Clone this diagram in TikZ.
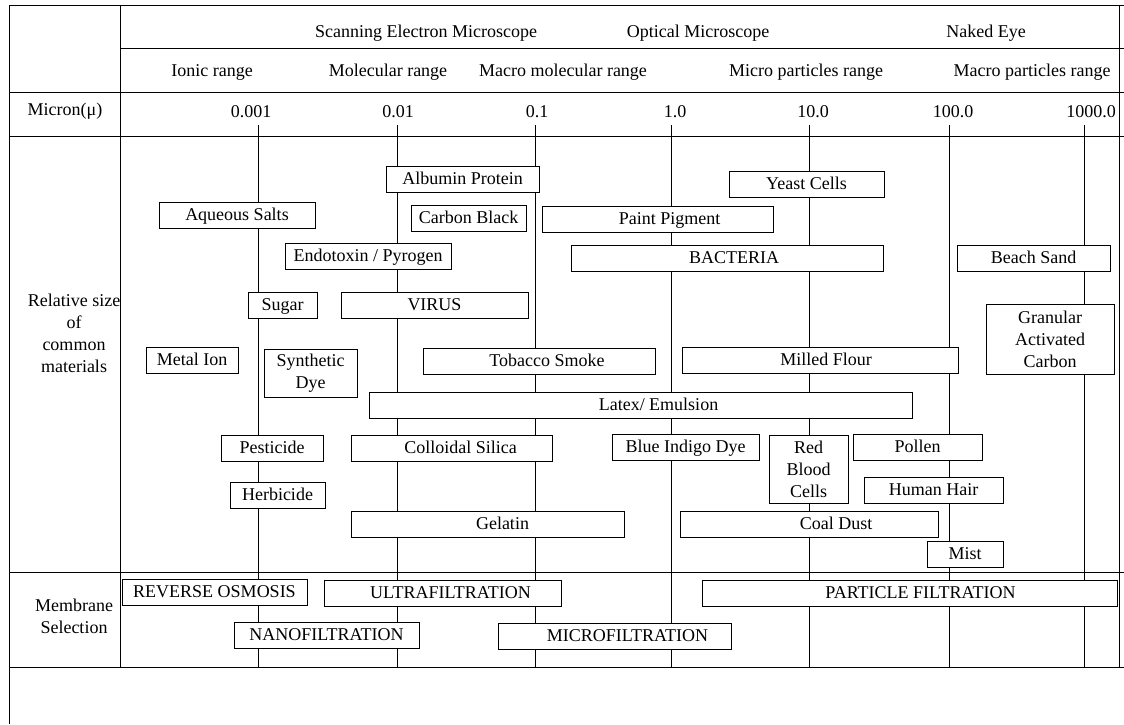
\documentclass[tikz,border=0pt]{standalone}
\usepackage{fontspec}
\setmainfont{Liberation Serif}

\begin{document}
\begin{tikzpicture}[x=1pt,y=-1pt,line width=0.8pt,font=\fontsize{18}{22}\selectfont]

      \useasboundingbox (0,0) rectangle (1124,724);

      % table frame
      \draw (9,5) -- (1124,5);
      \draw (120,48) -- (1124,48);
      \draw (9,92) -- (1124,92);
      \draw (9,136) -- (1124,136);
      \draw (9,572) -- (1124,572);
      \draw (9,667) -- (1124,667);
      \draw (9,5) -- (9,724);
      \draw (120,5) -- (120,667);
      \draw (1119,5) -- (1119,667);

      % size scale
      \draw (258,125) -- (258,667);
      \draw (397,125) -- (397,667);
      \draw (535,125) -- (535,667);
      \draw (671,125) -- (671,667);
      \draw (809,125) -- (809,667);
      \draw (949,125) -- (949,667);
      \draw (1084,125) -- (1084,667);

      \begin{scope}[every node/.style={anchor=base}]
        \node (sem)       at (426,37)  {Scanning Electron Microscope};
        \node (optical)   at (698,37)  {Optical Microscope};
        \node (naked)     at (986,37)  {Naked Eye};
        \node (ionic)     at (212,76)  {Ionic range};
        \node (molecular) at (388,76)  {Molecular range};
        \node (macromol)  at (563,76)  {Macro molecular range};
        \node (microp)    at (806,76)  {Micro particles range};
        \node (macrop)    at (1032,76) {Macro particles range};
        \node (n1) at (251,117)  {0.001};
        \node (n2) at (398,117)  {0.01};
        \node (n3) at (537,117)  {0.1};
        \node (n4) at (675,117)  {1.0};
        \node (n5) at (813,117)  {10.0};
        \node (n6) at (953,117)  {100.0};
        \node (n7) at (1091,117) {1000.0};
      \end{scope}

      \begin{scope}[every node/.style={align=center}]
        \node (micron)   at (65,111) {Micron(μ)};
        \node (relsize)  at (74,333) {Relative size\\of\\common\\materials};
        \node (membrane) at (74,616) {Membrane\\Selection};
      \end{scope}

      \begin{scope}[every node/.style={draw,fill=white,inner sep=0pt,
          minimum height=26pt,text height=13pt,text depth=3pt}]
        \node[minimum width=153pt] (albumin)   at (462.5,179.5) {Albumin Protein};
        \node[minimum width=155pt] (yeast)     at (806.5,184)   {Yeast Cells};
        \node[minimum width=156pt] (aqueous)   at (237,215)     {Aqueous Salts};
        \node[minimum width=115pt] (carbon)    at (468.5,218)   {Carbon Black};
        \node[minimum width=231pt] (paint)     at (657.5,219)   {\hspace*{24pt}Paint Pigment};
        \node[minimum width=166pt] (endotoxin) at (368,256.5)   {Endotoxin / Pyrogen};
        \node[minimum width=312pt] (bacteria)  at (727,258.5)   {\hspace*{14pt}BACTERIA};
        \node[minimum width=153pt] (beach)     at (1033.5,258)  {Beach Sand};
        \node[minimum width=69pt]  (sugar)     at (282.5,305)   {Sugar};
        \node[minimum width=187pt] (virus)     at (434.5,305)   {VIRUS};
        \node[minimum width=92pt]  (metal)     at (192,360)     {Metal Ion};
        \node[minimum width=232pt] (tobacco)   at (539,361.5)   {\hspace*{16pt}Tobacco Smoke};
        \node[minimum width=276pt] (flour)     at (820,360)     {\hspace*{12pt}Milled Flour};
        \node[minimum width=543pt] (latex)     at (640.5,405)   {\hspace*{36pt}Latex/ Emulsion};
        \node[minimum width=102pt] (pesticide) at (272,448)     {Pesticide};
        \node[minimum width=201pt] (silica)    at (451.5,448)   {\hspace*{18pt}Colloidal Silica};
        \node[minimum width=147pt] (indigo)    at (685.5,447.5) {Blue Indigo Dye};
        \node[minimum width=129pt] (pollen)    at (917.5,447.5) {Pollen};
        \node[minimum width=95pt]  (herbicide) at (277.5,495)   {Herbicide};
        \node[minimum width=139pt] (hair)      at (933.5,490)   {Human Hair};
        \node[minimum width=273pt] (gelatin)   at (487.5,524.5) {\hspace*{30pt}Gelatin};
        \node[minimum width=258pt] (coal)      at (809,524)     {\hspace*{54pt}Coal Dust};
        \node[minimum width=76pt]  (mist)      at (965,554)     {Mist};
        \node[minimum width=185pt] (ro)        at (214.5,592)   {REVERSE OSMOSIS};
        \node[minimum width=237pt] (uf)        at (442.5,593)   {\hspace*{16pt}ULTRAFILTRATION};
        \node[minimum width=415pt] (pf)        at (909.5,593)   {\hspace*{22pt}PARTICLE FILTRATION};
        \node[minimum width=185pt] (nf)        at (326.5,635)   {NANOFILTRATION};
        \node[minimum width=233pt] (mf)        at (614.5,636)   {\hspace*{26pt}MICROFILTRATION};
      \end{scope}

      \begin{scope}[every node/.style={draw,fill=white,inner sep=0pt,align=center}]
        \node[minimum width=128pt,minimum height=70pt] (gac) at (1050,339)  {Granular\\Activated\\Carbon};
        \node[minimum width=93pt,minimum height=48pt]  (dye) at (310.5,373) {Synthetic\\Dye};
        \node[minimum width=79pt,minimum height=68pt]  (rbc) at (808.5,469) {Red\\Blood\\Cells};
      \end{scope}

    \end{tikzpicture}
\end{document}
